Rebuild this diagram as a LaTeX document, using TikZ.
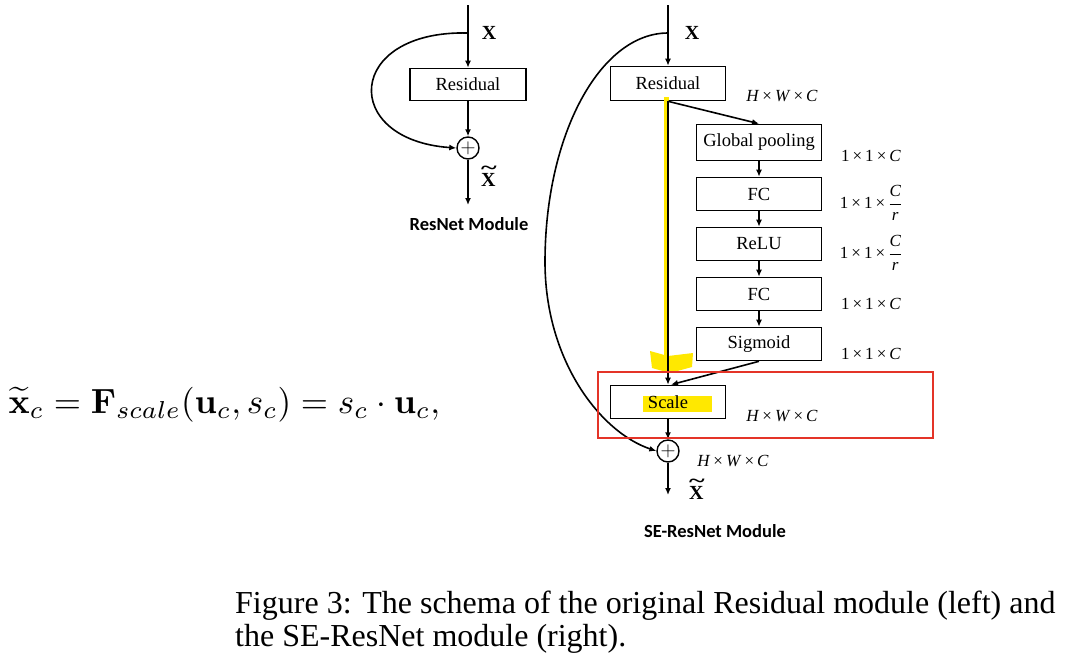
\documentclass[tikz,border=0pt]{standalone}
\usepackage[no-math]{fontspec}
\usepackage{amsmath}
\setmainfont{Liberation Serif}
\newfontfamily\carlito{Carlito}
\usetikzlibrary{arrows.meta,calc}
\definecolor{hlyellow}{RGB}{255,232,0}
\definecolor{boxred}{RGB}{228,52,40}
\newcommand{\tms}{\hspace{0.18em}×\hspace{0.18em}}
\newcommand{\xtil}{\ooalign{X\cr\hfil\raisebox{0.62em}{\scalebox{1.5}[1]{\textasciitilde}}\hfil\cr}}
\tikzset{
  conn/.style={line width=1.6pt,-{Latex[length=7pt,width=6pt]}},
  link/.style={line width=1.6pt},
  blk/.style={draw,line width=1.6pt,rectangle,inner sep=0pt,font=\fontsize{18.5}{21}\selectfont},
  addnode/.style={draw,line width=1.4pt,circle,minimum size=22pt,inner sep=0pt,font=\fontsize{20}{20}\selectfont},
  dimlbl/.style={font=\fontsize{17}{20}\selectfont},
  xlbl/.style={font=\fontsize{20}{22}\selectfont\bfseries},
  title/.style={font=\fontsize{18.5}{21}\selectfont\carlito\bfseries},
}
\begin{document}
\begin{tikzpicture}[x=1pt,y=-1pt]
\useasboundingbox (0,0) rectangle (1075,665);
% ---------- left: ResNet module ----------
\coordinate (lin) at (468,5);
\coordinate (lsplit) at (468,33);
\coordinate (lout) at (468,205);
\node[blk,minimum width=116pt,minimum height=32pt] (lres) at (468,84.5) {Residual};
\node[addnode] (lplus) at (468,148) {$+$};
\draw[conn] (lin) -- (lres.north);
\draw[conn] (lres.south) -- (lplus.north);
\draw[conn] (lplus.south) -- (lout);
\draw[conn] (lsplit) .. controls (345,30) and (340,140) .. (lplus.west);
\node[xlbl] (lx) at (489,33) {X};
\node[xlbl] (lxt) at (489,180) {\xtil};
\node[title] (ltitle) at (469,224) {ResNet Module};
% ---------- right: SE-ResNet module ----------
\coordinate (rin) at (668,5);
\coordinate (rsplit) at (668,33);
\coordinate (rmid) at (545,262);
\coordinate (rout) at (668,495);
\node[blk,minimum width=115pt,minimum height=34pt] (rres) at (668,83.5) {Residual};
\node[blk,minimum width=125pt,minimum height=36pt] (gp) at (759,142.5) {Global pooling};
\node[blk,minimum width=125pt,minimum height=33pt] (fc1) at (759,194) {FC};
\node[blk,minimum width=125pt,minimum height=33pt] (relu) at (759,244) {ReLU};
\node[blk,minimum width=125pt,minimum height=33pt] (fc2) at (759,294) {FC};
\node[blk,minimum width=125pt,minimum height=33pt] (sig) at (759,344) {Sigmoid};
% highlight behind Scale text
\fill[hlyellow] (643,396) rectangle (712,412);
\node[blk,minimum width=115pt,minimum height=33pt] (scale) at (668,402) {Scale};
\node[addnode] (rplus) at (668,451) {$+$};
% yellow marker stroke
\draw[hlyellow,line width=5pt] (666,97) -- (666,368);
\fill[hlyellow] (650,351) -- (668,356) -- (693,353) -- (692,367) -- (670,373) -- (652,368) -- cycle;
% connectors
\draw[conn] (rin) -- (rres.north);
\draw[conn] (rres.south) -- (scale.north);
\draw[conn] (rres.south) -- (gp.north);
\draw[conn] (gp) -- (fc1);
\draw[conn] (fc1) -- (relu);
\draw[conn] (relu) -- (fc2);
\draw[conn] (fc2) -- (sig);
\draw[conn] (sig.south) -- ($(scale.north)+(3,0)$);
\draw[conn] (scale.south) -- (rplus.north);
\draw[conn] (rplus.south) -- (rout);
\draw[link] (rsplit) .. controls (600,33) and (545,135) .. (rmid);
\draw[conn] (rmid) .. controls (545,360) and (600,432) .. (rplus.west);
% labels
\node[xlbl] (rx) at (692,33) {X};
\node[xlbl] (rxt) at (697,493) {\xtil};
\node[dimlbl] (d1) at (782,96) {\textit{H}\tms\textit{W}\tms\textit{C}};
\node[dimlbl] (d2) at (871,156) {1\tms 1\tms\textit{C}};
\node[dimlbl] (d3) at (871,203) {1\tms 1\tms$\dfrac{\text{\itshape C}}{\text{\itshape r}}$};
\node[dimlbl] (d4) at (871,253) {1\tms 1\tms$\dfrac{\text{\itshape C}}{\text{\itshape r}}$};
\node[dimlbl] (d5) at (871,304) {1\tms 1\tms\textit{C}};
\node[dimlbl] (d6) at (871,354) {1\tms 1\tms\textit{C}};
\node[dimlbl] (d7) at (782,416) {\textit{H}\tms\textit{W}\tms\textit{C}};
\node[dimlbl] (d8) at (733,461) {\textit{H}\tms\textit{W}\tms\textit{C}};
\node[title] (rtitle) at (715,531) {SE-ResNet Module};
% red box
\draw[boxred,line width=1.4pt] (598,372) rectangle (933,438);
% equation
\node[anchor=base west,inner sep=0pt,scale=3.5] (eq) at (8,413) {$\widetilde{\mathbf{x}}_c = \mathbf{F}_{scale}(\mathbf{u}_c, s_c) = s_c\cdot\mathbf{u}_c,$};
% caption
\node[anchor=base west,inner sep=0pt,font=\fontsize{32}{36}\selectfont] (cap1) at (235,613) {Figure 3: The schema of the original Residual module (left) and};
\node[anchor=base west,inner sep=0pt,font=\fontsize{32}{36}\selectfont] (cap2) at (235,646) {the SE-ResNet module (right).};
\end{tikzpicture}
\end{document}
